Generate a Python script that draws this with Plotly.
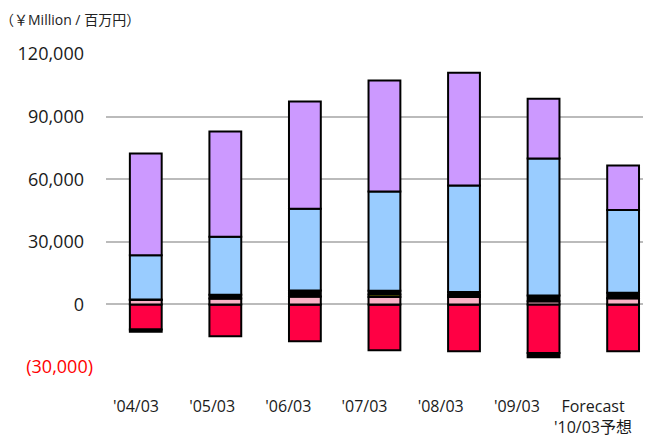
import plotly.graph_objects as go

categories = ["'04/03", "'05/03", "'06/03", "'07/03", "'08/03", "'09/03", "Forecast<br>'10/03予想"]

pink_vals = [2100, 2800, 3800, 3500, 3500, 1500, 2900]
yellow_vals = [0, 0, 0, 1200, 1000, 0, 0]
black_vals = [300, 1800, 2900, 1800, 1500, 2800, 2700]
blue_vals = [21100, 27800, 39100, 47600, 51000, 65600, 39600]
purple_vals = [48800, 50500, 51400, 53200, 54000, 28600, 21400]
red_vals = [-12000, -15300, -17600, -22000, -22400, -23300, -22400]
black_neg_vals = [-1100, 0, 0, 0, 0, -2000, 0]

y_tickvals = [-30000, 0, 30000, 60000, 90000, 120000]
y_ticktext = ["<span style='color:#FF0000'>(30,000)</span>", "0\u2002", "30,000\u2002",
              "60,000\u2002", "90,000\u2002", "120,000\u2002"]

series = [
    ("Red", red_vals, "#FF0044"),
    ("Black (neg)", black_neg_vals, "#000000"),
    ("Pink", pink_vals, "#F9B2C6"),
    ("Yellow", yellow_vals, "#E5E500"),
    ("Black", black_vals, "#000000"),
    ("Blue", blue_vals, "#99CCFF"),
    ("Purple", purple_vals, "#CC99FF"),
]

idx = list(range(len(categories)))

fig = go.Figure()
for name, vals, color in series:
    fig.add_trace(go.Bar(
        x=idx, y=vals, name=name, width=0.4,
        hovertext=categories,
        marker=dict(color=color, line=dict(color="#000000", width=2)),
    ))

# empty helper trace so the label axis is drawn
fig.add_trace(go.Scatter(x=idx, y=[None] * len(idx), xaxis="x2", mode="lines",
                         showlegend=False, hoverinfo="skip"))

font_family = "Open Sans, Noto Sans CJK JP, sans-serif"

fig.update_layout(
    barmode="relative",
    width=653, height=439,
    margin=dict(l=106, r=10, t=54, b=72, autoexpand=False),
    plot_bgcolor="white", paper_bgcolor="white",
    showlegend=False,
    font=dict(family=font_family, color="#1a1a1a"),
    title=dict(text="（￥Million / 百万円）", x=0.0, xref="container", xanchor="left",
               y=1 - 20 / 439, yref="container", yanchor="middle",
               font=dict(size=14, color="#222222", family=font_family)),
    xaxis=dict(range=[-0.5, 6.25], showgrid=False, showline=False, ticks="",
               showticklabels=False, zeroline=False, automargin=False),
    xaxis2=dict(overlaying="x", anchor="y", side="bottom",
                range=[-0.394, 6.656], tickmode="array",
                tickvals=idx, ticktext=categories,
                showgrid=False, showline=False, zeroline=False, ticks="",
                tickfont=dict(size=16), ticklabelstandoff=28, automargin=False),
    yaxis=dict(range=[-30000, 120000], tickvals=y_tickvals, ticktext=y_ticktext,
               automargin=False, showgrid=True, gridcolor="#BBBBBB", gridwidth=1.5,
               zeroline=True, zerolinecolor="#BBBBBB", zerolinewidth=1.5,
               showline=False, ticks="", tickfont=dict(size=18), ticklabelstandoff=12),
)

fig.write_html("out.html", config={"displayModeBar": False},
               post_script="document.body.style.margin='0';")
